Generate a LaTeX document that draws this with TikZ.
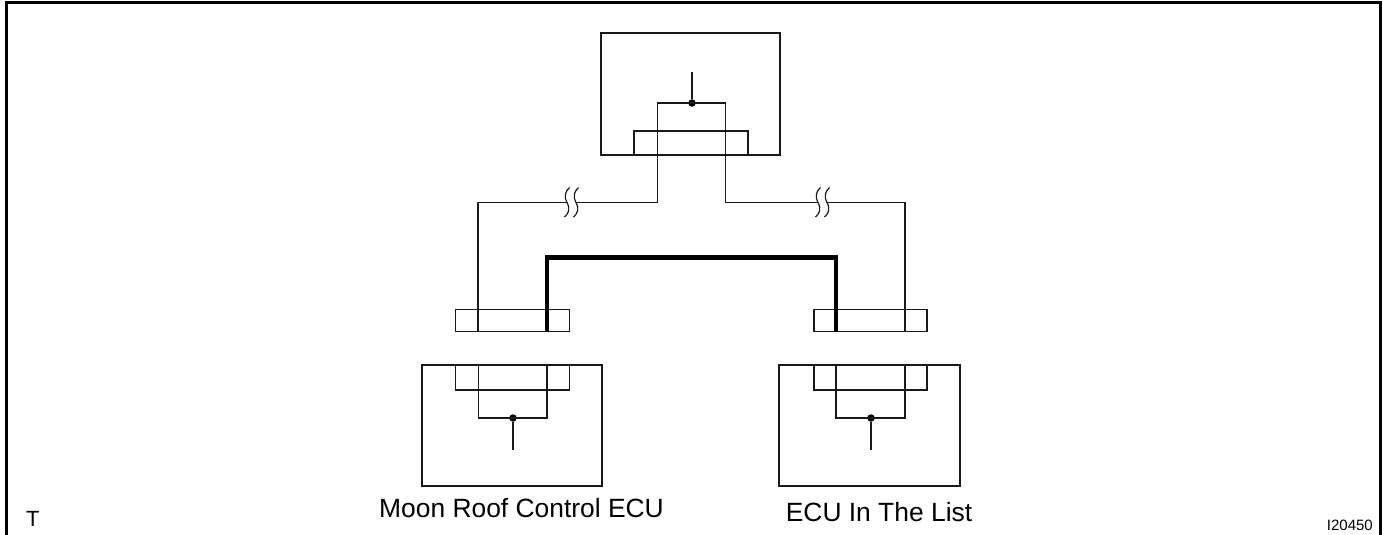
\documentclass[tikz,border=0pt]{standalone}
\usepackage{fontspec}
\usetikzlibrary{calc}
\setmainfont{Liberation Sans}
\tikzset{
  thinw/.style={line width=1.4pt,black!90},
  boxl/.style={line width=1.9pt,black!90,draw,inner sep=0pt},
  heavy/.style={line width=4.6pt,black},
  dotn/.style={circle,fill=black,inner sep=0pt,minimum size=7.5pt},
  lab/.style={inner sep=0pt,anchor=base,font=\fontsize{26.4}{28}\selectfont},
  brk/.style={line width=1.2pt,black!90}
}
\newcommand{\brkS}[2]{%
  \draw[brk] ([shift={(#2+2.5,-15)}]#1) .. controls ([shift={(#2-1.5,-11)}]#1) and ([shift={(#2-3.5,-7)}]#1) .. ([shift={(#2,0)}]#1) .. controls ([shift={(#2+3.5,7)}]#1) and ([shift={(#2+1.5,11)}]#1) .. ([shift={(#2-2.5,14.5)}]#1);
}
\begin{document}
\begin{tikzpicture}[x=1pt,y=-1pt]
\useasboundingbox (0,0) rectangle (1383,535);
\fill[white] (0,0) rectangle (1383,535);
% frame
\coordinate (fbl) at (6.5,535); \coordinate (ftl) at (6.5,2.5);
\coordinate (ftr) at (1380.5,2.5); \coordinate (fbr) at (1380.5,535);
\draw[line width=2.4pt] (fbl) -- (ftl) -- (ftr) -- (fbr);
% top unit
\node[boxl,minimum width=179.5pt,minimum height=122pt] (topbox) at (690.5,94) {};
\node[boxl,minimum width=114pt,minimum height=24pt] (topconn) at (691,143) {};
\node[dotn] (topdot) at (692,103) {};
\coordinate (topstem) at (692,72);
\coordinate (tl) at (657.5,103); \coordinate (tr) at (725.5,103);
\coordinate (lbend) at (657.5,202.5); \coordinate (rbend) at (725.5,202.5);
\coordinate (lbr) at (567,202.5); \coordinate (rbr) at (818,202.5);
\coordinate (lcorner) at (478,202.5); \coordinate (rcorner) at (905,202.5);
% lower connectors
\node[boxl,minimum width=114pt,minimum height=22pt] (lconn) at (512.5,320.5) {};
\node[boxl,minimum width=113pt,minimum height=22pt] (rconn) at (870.5,320.5) {};
\coordinate (lw) at (478,331.5); \coordinate (rw) at (905,331.5);
% wires
\draw[thinw] (topstem) -- (topdot);
\draw[thinw] (lbr) -- (lcorner) -- (lw);
\draw[thinw] ($(lbr)+(9,0)$) -- (lbend) -- (tl) -- (tr) -- (rbend) -- (rbr);
\draw[thinw] ($(rbr)+(9,0)$) -- (rcorner) -- (rw);
\brkS{lbr}{0}\brkS{lbr}{9}
\brkS{rbr}{0}\brkS{rbr}{9}
% heavy
\coordinate (hl) at (546.8,331.5); \coordinate (hr) at (836,331.5);
\coordinate (htl) at (546.8,257.5); \coordinate (htr) at (836,257.5);
\draw[heavy,line join=miter] (hl) -- (htl) -- (htr) -- (hr);
% left ECU
\node[boxl,minimum width=180pt,minimum height=121pt] (lbox) at (512,425.5) {};
\node[boxl,minimum width=114pt,minimum height=25pt] (lin) at (512.5,377.5) {};
\node[dotn] (ldot) at (513,418) {};
\coordinate (lst) at (513,450);
\draw[thinw] (478.5,365) -- (478.5,418) -- (547,418) -- (547,365);
\draw[thinw] (ldot) -- (lst);
% right ECU
\node[boxl,minimum width=181pt,minimum height=121pt] (rbox) at (869.5,425.5) {};
\node[boxl,minimum width=113pt,minimum height=25pt] (rin) at (870.5,377.5) {};
\node[dotn] (rdot) at (871,418) {};
\coordinate (rst) at (871,450);
\draw[thinw] (836,365) -- (836,418) -- (905,418) -- (905,365);
\draw[thinw] (rdot) -- (rst);
% labels
\node[lab] (lname) at (521.5,517.7) {Moon Roof Control ECU};
\node[lab] (rname) at (879,521) {ECU In The List};
\node[inner sep=0pt,anchor=base west,font=\fontsize{22}{24}\selectfont] (tmark) at (26,526) {T};
\node[inner sep=0pt,anchor=base east,font=\fontsize{15}{16}\selectfont] (code) at (1373,530) {I20450};
\end{tikzpicture}
\end{document}
